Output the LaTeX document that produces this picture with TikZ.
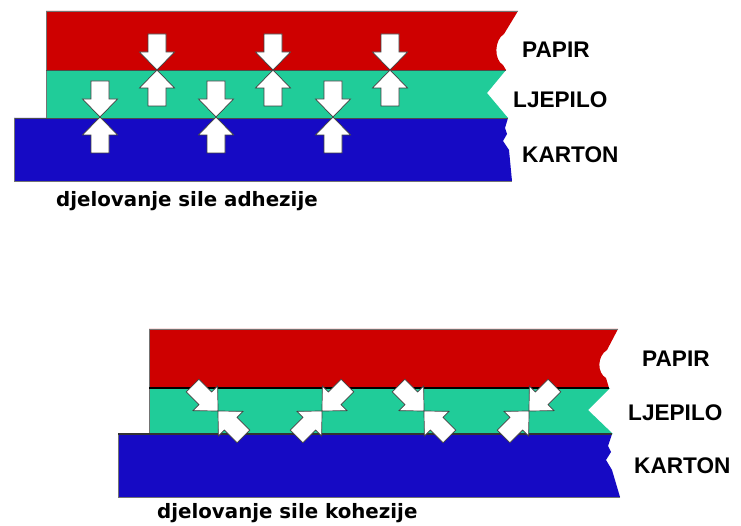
\documentclass[tikz,border=0pt]{standalone}
\usepackage{fontspec}
\setmainfont{Liberation Sans}
\newfontfamily\capfont{DejaVu Sans}
\definecolor{papirred}{RGB}{206,0,0}
\definecolor{glugreen}{RGB}{32,204,153}
\definecolor{kartblue}{RGB}{22,10,196}
\tikzset{
  arrowstyle/.style={fill=white, draw=black!75, line width=0.7pt, line join=miter},
  farrow/.pic={\filldraw[arrowstyle] (0,0) -- (-18,17.5) -- (-18,9) -- (-36,9) -- (-36,-9) -- (-18,-9) -- (-18,-17.5) -- cycle;},
  lbltext/.style={anchor=west, inner sep=0pt, font=\bfseries\fontsize{22.6}{26}\selectfont},
  captext/.style={anchor=base west, inner sep=0pt, font=\capfont\bfseries\fontsize{19.8}{23}\selectfont},
  layeredge/.style={draw=black!55, line width=0.6pt},
}
\begin{document}
\begin{tikzpicture}[x=1pt,y=1pt]
\useasboundingbox (0,0) rectangle (741,-526);
\fill[white] (0,0) rectangle (741,-526);

% ---------- top diagram: adhesion ----------
\fill[kartblue] (14,-118) -- (508,-118) -- (505,-128) -- (507,-134) -- (503,-141) -- (509,-150) -- (512,-181) -- (14,-181) -- cycle;
\fill[glugreen] (46,-70) -- (506,-70) -- (487,-93) -- (508,-118) -- (46,-118) -- cycle;
\fill[papirred] (46,-11) -- (518,-11) -- (504,-34) .. controls (494,-40) and (494,-60) .. (503,-65) -- (506,-70) -- (46,-70) -- cycle;
\draw[layeredge] (506,-70) -- (46,-70) -- (46,-11) -- (518,-11);
\draw[layeredge] (46,-70) -- (46,-118);
\draw[layeredge, draw=black!70, line width=0.9pt] (46,-70) -- (506,-70);
\draw[layeredge, draw=black!70, line width=0.9pt] (14,-118) -- (508,-118);
\draw[layeredge] (14,-118) -- (14,-181) -- (512,-181);

\foreach \x in {157,273,390}{
  \pic[rotate=-90] at (\x,-70) {farrow};
  \pic[rotate=90] at (\x,-70) {farrow};
}
\foreach \x in {100,216,333}{
  \pic[rotate=-90] at (\x,-117) {farrow};
  \pic[rotate=90] at (\x,-117) {farrow};
}

\node[lbltext] (p1) at (522,-50) {PAPIR};
\node[lbltext] (l1) at (513,-100) {LJEPILO};
\node[lbltext] (k1) at (522,-155) {KARTON};
\node[captext] (c1) at (56,-207) {djelovanje sile adhezije};

% ---------- bottom diagram: cohesion ----------
\fill[kartblue] (118,-434) -- (612,-434) -- (608,-446) -- (611,-452) -- (606,-460) -- (612,-470) -- (620,-497) -- (118,-497) -- cycle;
\fill[glugreen] (149,-388) -- (610,-388) -- (588,-410) -- (613,-434) -- (149,-434) -- cycle;
\fill[papirred] (149,-329) -- (618,-329) -- (607,-350) .. controls (597,-356) and (597,-373) .. (606,-378) -- (609,-388) -- (149,-388) -- cycle;
\draw[layeredge] (609,-388) -- (149,-388) -- (149,-329) -- (618,-329);
\draw[layeredge] (149,-388) -- (149,-434);
\draw[layeredge] (118,-434) -- (118,-497) -- (620,-497);
\draw[black, line width=1.8pt] (149,-388) -- (609,-388);
\draw[black!80, line width=1.1pt] (118,-434) -- (612,-434);

\foreach \x/\ra/\rb in {218/-45/135, 322/-135/45, 424/-45/135, 529/-135/45}{
  \pic[rotate=\ra] at (\x,-411) {farrow};
  \pic[rotate=\rb] at (\x,-411) {farrow};
}

\node[lbltext] (p2) at (642,-359) {PAPIR};
\node[lbltext] (l2) at (628,-413) {LJEPILO};
\node[lbltext] (k2) at (634,-466) {KARTON};
\node[captext] (c2) at (157,-518) {djelovanje sile kohezije};
\end{tikzpicture}
\end{document}
